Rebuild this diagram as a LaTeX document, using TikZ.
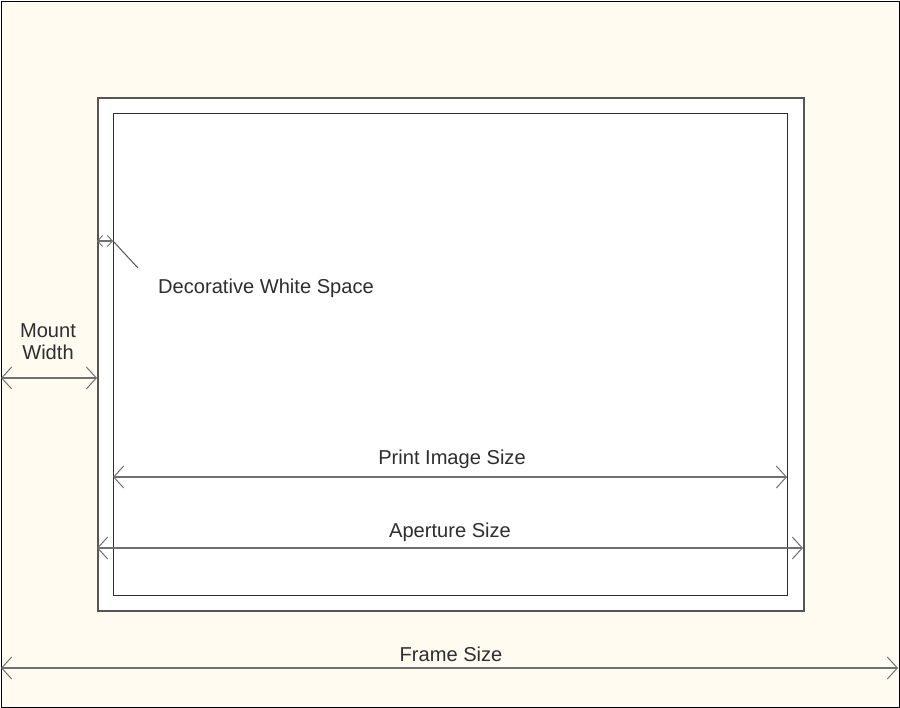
\documentclass[tikz,border=0pt]{standalone}
\usepackage{fontspec}
\setmainfont{Liberation Sans}
\usetikzlibrary{arrows.meta}
\definecolor{bgcream}{HTML}{FFFBF1}
\definecolor{txtgray}{HTML}{2E2E2E}
\definecolor{arrgray}{HTML}{707070}
\definecolor{rectgray}{HTML}{555555}
\begin{document}
\begin{tikzpicture}[x=1pt,y=-1pt,
  lbl/.style={font=\fontsize{20.1}{23}\selectfont, text=txtgray, inner sep=0pt},
  dimline/.style={draw=arrgray, line width=1.3pt, {Straight Barb[length=10pt,width=22pt,line width=1pt]}-{Straight Barb[length=10pt,width=22pt,line width=1pt]}},
  smalldim/.style={draw=arrgray, line width=1.1pt, {Straight Barb[length=5pt,width=11pt,line width=0.9pt]}-{Straight Barb[length=5pt,width=11pt,line width=0.9pt]}},
  ]
  \useasboundingbox (0,0) rectangle (900,708);
  % frame
  \node[draw=black, fill=bgcream, line width=1.5pt, minimum width=898.5pt, minimum height=706.5pt, inner sep=0pt, anchor=north west] (frame) at (0.75,0.75) {};
  % aperture (mount opening)
  \node[draw=rectgray, fill=white, line width=1.6pt, minimum width=706pt, minimum height=513pt, inner sep=0pt, anchor=north west] (aperture) at (97,97) {};
  % print image
  \node[draw=txtgray, fill=white, line width=1.4pt, minimum width=674pt, minimum height=482pt, inner sep=0pt, anchor=north west] (print) at (113,113) {};

  % coordinates for dimension lines
  \coordinate (fsL) at (1,668);   \coordinate (fsR) at (898,668);
  \coordinate (apL) at (97,548);  \coordinate (apR) at (803,548);
  \coordinate (piL) at (113,477); \coordinate (piR) at (787,477);
  \coordinate (mwL) at (1,378);   \coordinate (mwR) at (97,378);
  \coordinate (dwL) at (97,241);  \coordinate (dwR) at (113,241);
  \coordinate (lead) at (138,268);

  \draw[dimline] (fsL) -- (fsR);
  \draw[dimline] (apL) -- (apR);
  \draw[dimline] (piL) -- (piR);
  \draw[dimline] (mwL) -- (mwR);
  \draw[smalldim] (dwL) -- (dwR);
  \draw[draw=rectgray, line width=1pt] (dwR) -- (lead);

  % labels
  \node[lbl] (tfs) at (451,654) {Frame Size};
  \node[lbl] (tap) at (450,532) {Aperture Size};
  \node[lbl] (tpi) at (452,459) {Print Image Size};
  \node[lbl, align=center, font=\fontsize{20.1}{22.5}\selectfont] (tmw) at (48,341.5) {Mount\\Width};
  \node[lbl, anchor=west] (tdw) at (158,288) {Decorative White Space};
\end{tikzpicture}
\end{document}
